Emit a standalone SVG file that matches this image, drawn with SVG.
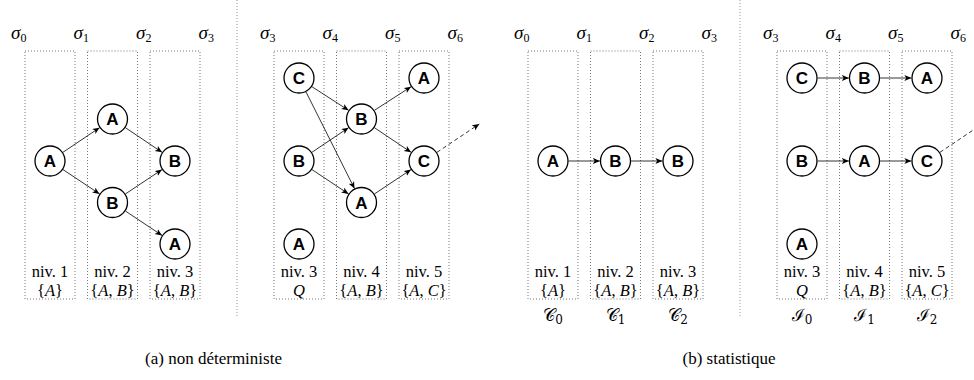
<svg xmlns="http://www.w3.org/2000/svg" width="974" height="380" viewBox="0 0 974 380">
<style>
.box{fill:none;stroke:#666;stroke-width:0.9;stroke-dasharray:1 2}
.sep{fill:none;stroke:#888;stroke-width:0.9;stroke-dasharray:1 2}
.nd circle{fill:#fff;stroke:#000;stroke-width:1.3}
.nd text{font-family:"Liberation Sans",Arial,sans-serif;font-weight:bold;font-size:17px;text-anchor:middle;fill:#000}
.e{stroke:#000;stroke-width:0.8;fill:none;marker-end:url(#ah)}
.d{stroke:#000;stroke-width:0.8;fill:none;stroke-dasharray:4 3;marker-end:url(#ah)}
.t{font-family:"Liberation Serif","DejaVu Serif","Times New Roman",serif;font-size:16.5px;text-anchor:middle;fill:#000}
.sg{font-family:"Liberation Serif","DejaVu Serif","Times New Roman",serif;font-size:19px;font-style:italic;text-anchor:middle;fill:#000}
.cal{font-family:"DejaVu Serif","Liberation Serif",serif;font-size:17px;text-anchor:middle;fill:#000}
.cap{font-family:"Liberation Serif","DejaVu Serif","Times New Roman",serif;font-size:17px;text-anchor:middle;fill:#000}
.i{font-style:italic}
.sub{font-size:12px;font-style:normal}
</style>
<defs>
<marker id="ah" markerUnits="userSpaceOnUse" markerWidth="10" markerHeight="10" refX="7" refY="3" orient="auto">
<path d="M0,0 L7,3 L0,6 L1.8,3 z" fill="#000"/>
</marker>
</defs>

<g id="separators">
<line class="sep" x1="237" y1="0" x2="237" y2="316"/>
<line class="sep" x1="740" y1="0" x2="740" y2="316"/>
</g>

<g id="boxes">
<rect class="box" x="25" y="51" width="50" height="248"/>
<rect class="box" x="87.5" y="51" width="50" height="248"/>
<rect class="box" x="150" y="51" width="50" height="248"/>
<rect class="box" x="274" y="51" width="50" height="248"/>
<rect class="box" x="336.5" y="51" width="50" height="248"/>
<rect class="box" x="399" y="51" width="50" height="248"/>
<rect class="box" x="528" y="51" width="50" height="248"/>
<rect class="box" x="590.5" y="51" width="50" height="248"/>
<rect class="box" x="653" y="51" width="50" height="248"/>
<rect class="box" x="777" y="51" width="50" height="248"/>
<rect class="box" x="839.5" y="51" width="50" height="248"/>
<rect class="box" x="902" y="51" width="50" height="248"/>
</g>

<g id="sigmas">
<text class="sg" x="18.75" y="39">σ<tspan class="sub" dy="3">0</tspan></text>
<text class="sg" x="81.25" y="39">σ<tspan class="sub" dy="3">1</tspan></text>
<text class="sg" x="143.75" y="39">σ<tspan class="sub" dy="3">2</tspan></text>
<text class="sg" x="206.25" y="39">σ<tspan class="sub" dy="3">3</tspan></text>
<text class="sg" x="267.75" y="39">σ<tspan class="sub" dy="3">3</tspan></text>
<text class="sg" x="330.25" y="39">σ<tspan class="sub" dy="3">4</tspan></text>
<text class="sg" x="392.75" y="39">σ<tspan class="sub" dy="3">5</tspan></text>
<text class="sg" x="455.25" y="39">σ<tspan class="sub" dy="3">6</tspan></text>
<text class="sg" x="521.75" y="39">σ<tspan class="sub" dy="3">0</tspan></text>
<text class="sg" x="584.25" y="39">σ<tspan class="sub" dy="3">1</tspan></text>
<text class="sg" x="646.75" y="39">σ<tspan class="sub" dy="3">2</tspan></text>
<text class="sg" x="709.25" y="39">σ<tspan class="sub" dy="3">3</tspan></text>
<text class="sg" x="770.75" y="39">σ<tspan class="sub" dy="3">3</tspan></text>
<text class="sg" x="833.25" y="39">σ<tspan class="sub" dy="3">4</tspan></text>
<text class="sg" x="895.75" y="39">σ<tspan class="sub" dy="3">5</tspan></text>
<text class="sg" x="958.25" y="39">σ<tspan class="sub" dy="3">6</tspan></text>
</g>

<g id="levels">
<text class="t" x="50" y="277">niv. 1</text>
<text class="t" x="112.5" y="277">niv. 2</text>
<text class="t" x="175" y="277">niv. 3</text>
<text class="t" x="299" y="277">niv. 3</text>
<text class="t" x="361.5" y="277">niv. 4</text>
<text class="t" x="424" y="277">niv. 5</text>
<text class="t" x="553" y="277">niv. 1</text>
<text class="t" x="615.5" y="277">niv. 2</text>
<text class="t" x="678" y="277">niv. 3</text>
<text class="t" x="802" y="277">niv. 3</text>
<text class="t" x="864.5" y="277">niv. 4</text>
<text class="t" x="927" y="277">niv. 5</text>
<text class="t" x="50" y="296">{<tspan class="i">A</tspan>}</text>
<text class="t" x="112.5" y="296">{<tspan class="i">A</tspan>, <tspan class="i">B</tspan>}</text>
<text class="t" x="175" y="296">{<tspan class="i">A</tspan>, <tspan class="i">B</tspan>}</text>
<text class="t i" x="299" y="296">Q</text>
<text class="t" x="361.5" y="296">{<tspan class="i">A</tspan>, <tspan class="i">B</tspan>}</text>
<text class="t" x="424" y="296">{<tspan class="i">A</tspan>, <tspan class="i">C</tspan>}</text>
<text class="t" x="553" y="296">{<tspan class="i">A</tspan>}</text>
<text class="t" x="615.5" y="296">{<tspan class="i">A</tspan>, <tspan class="i">B</tspan>}</text>
<text class="t" x="678" y="296">{<tspan class="i">A</tspan>, <tspan class="i">B</tspan>}</text>
<text class="t i" x="802" y="296">Q</text>
<text class="t" x="864.5" y="296">{<tspan class="i">A</tspan>, <tspan class="i">B</tspan>}</text>
<text class="t" x="927" y="296">{<tspan class="i">A</tspan>, <tspan class="i">C</tspan>}</text>
</g>

<g id="sets">
<text class="cal" x="553" y="321">𝒞<tspan class="sub" dy="3">0</tspan></text>
<text class="cal" x="615.5" y="321">𝒞<tspan class="sub" dy="3">1</tspan></text>
<text class="cal" x="678" y="321">𝒞<tspan class="sub" dy="3">2</tspan></text>
<text class="cal" x="802" y="321">ℐ<tspan class="sub" dy="3">0</tspan></text>
<text class="cal" x="864.5" y="321">ℐ<tspan class="sub" dy="3">1</tspan></text>
<text class="cal" x="927" y="321">ℐ<tspan class="sub" dy="3">2</tspan></text>
</g>

<g id="connectors">
<line class="e" x1="62.95" y1="152.3" x2="99.55" y2="127.7"/>
<line class="e" x1="63" y1="169.6" x2="99.5" y2="193.9"/>
<line class="e" x1="125.45" y1="127.7" x2="162.05" y2="152.3"/>
<line class="e" x1="125.5" y1="193.9" x2="162" y2="169.6"/>
<line class="e" x1="125.5" y1="211.1" x2="162" y2="235.4"/>
<line class="e" x1="311.95" y1="86.7" x2="348.55" y2="110.3"/>
<line class="e" x1="306" y1="91.9" x2="354.5" y2="188.6"/>
<line class="e" x1="311.95" y1="152.3" x2="348.55" y2="127.7"/>
<line class="e" x1="312" y1="169.6" x2="348.5" y2="193.9"/>
<line class="e" x1="374.45" y1="110.3" x2="411.05" y2="86.7"/>
<line class="e" x1="374.45" y1="127.7" x2="411.05" y2="152.3"/>
<line class="e" x1="374.5" y1="193.9" x2="411" y2="169.6"/>
<line class="d" x1="437" y1="152.3" x2="479.3" y2="124"/>
<line class="e" x1="568.6" y1="161" x2="599.9" y2="161"/>
<line class="e" x1="631.1" y1="161" x2="662.4" y2="161"/>
<line class="e" x1="817.6" y1="78" x2="848.9" y2="78"/>
<line class="e" x1="880.1" y1="78" x2="911.4" y2="78"/>
<line class="e" x1="817.6" y1="161" x2="848.9" y2="161"/>
<line class="e" x1="880.1" y1="161" x2="911.4" y2="161"/>
<line class="d" x1="940" y1="152.3" x2="982.3" y2="124"/>
</g>

<g id="a1" class="nd"><circle cx="50" cy="161" r="15"/><text x="50" y="167">A</text></g>
<g id="a2" class="nd"><circle cx="112.5" cy="119" r="15"/><text x="112.5" y="125">A</text></g>
<g id="a3" class="nd"><circle cx="112.5" cy="202.5" r="15"/><text x="112.5" y="208.5">B</text></g>
<g id="a4" class="nd"><circle cx="175" cy="161" r="15"/><text x="175" y="167">B</text></g>
<g id="a5" class="nd"><circle cx="175" cy="244" r="15"/><text x="175" y="250">A</text></g>

<g id="a6" class="nd"><circle cx="299" cy="78" r="15"/><text x="299" y="84">C</text></g>
<g id="a7" class="nd"><circle cx="299" cy="161" r="15"/><text x="299" y="167">B</text></g>
<g id="a8" class="nd"><circle cx="299" cy="244" r="15"/><text x="299" y="250">A</text></g>
<g id="a9" class="nd"><circle cx="361.5" cy="119" r="15"/><text x="361.5" y="125">B</text></g>
<g id="a10" class="nd"><circle cx="361.5" cy="202.5" r="15"/><text x="361.5" y="208.5">A</text></g>
<g id="a11" class="nd"><circle cx="424" cy="78" r="15"/><text x="424" y="84">A</text></g>
<g id="a12" class="nd"><circle cx="424" cy="161" r="15"/><text x="424" y="167">C</text></g>

<g id="b1" class="nd"><circle cx="553" cy="161" r="15"/><text x="553" y="167">A</text></g>
<g id="b2" class="nd"><circle cx="615.5" cy="161" r="15"/><text x="615.5" y="167">B</text></g>
<g id="b3" class="nd"><circle cx="678" cy="161" r="15"/><text x="678" y="167">B</text></g>

<g id="b4" class="nd"><circle cx="802" cy="78" r="15"/><text x="802" y="84">C</text></g>
<g id="b5" class="nd"><circle cx="864.5" cy="78" r="15"/><text x="864.5" y="84">B</text></g>
<g id="b6" class="nd"><circle cx="927" cy="78" r="15"/><text x="927" y="84">A</text></g>
<g id="b7" class="nd"><circle cx="802" cy="161" r="15"/><text x="802" y="167">B</text></g>
<g id="b8" class="nd"><circle cx="864.5" cy="161" r="15"/><text x="864.5" y="167">A</text></g>
<g id="b9" class="nd"><circle cx="927" cy="161" r="15"/><text x="927" y="167">C</text></g>
<g id="b10" class="nd"><circle cx="802" cy="244" r="15"/><text x="802" y="250">A</text></g>

<g id="captions">
<text class="cap" x="213.5" y="364">(a) non déterministe</text>
<text class="cap" x="729" y="364">(b) statistique</text>
</g>
</svg>
